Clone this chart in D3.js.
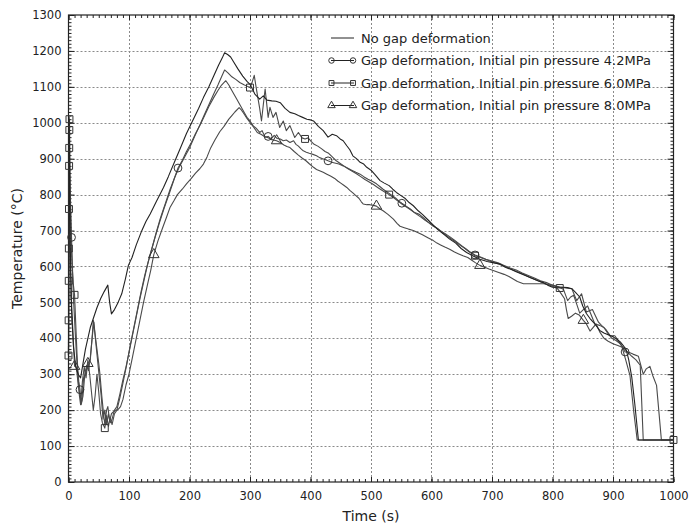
<!DOCTYPE html>
<html>
<head>
<meta charset="utf-8">
<script src="https://cdn.jsdelivr.net/npm/d3@7"></script>
<style>
  body { margin: 0; background: #fff; }
  svg text { font-family: "DejaVu Sans", sans-serif; fill: #222; }
</style>
</head>
<body>
<div id="chart"></div>
<script>
// Series: [time (s), temperature (°C)]
const noGap = [[0,350],[0.5,700],[1,1015],[1.5,950],[2,820],[3,650],[5,480],[8,380],[12,320],[16,300],[20,290],[24,330],[28,370],[32,400],[36,430],[41,455],[47,485],[53,510],[59,530],[65,548],[68,500],[71,468],[76,480],[82,500],[88,524],[94,565],[99,603],[105,625],[112,660],[120,695],[128,725],[135,746],[145,780],[157,820],[165,850],[175,890],[185,930],[195,970],[205,1005],[215,1040],[223,1070],[232,1100],[240,1130],[248,1160],[254,1180],[258,1195],[263,1190],[268,1183],[272,1172],[280,1150],[288,1130],[295,1115],[300,1107],[308,1080],[316,1066],[322,1075],[328,1063],[336,1061],[343,1060],[350,1056],[358,1040],[366,1029],[374,1025],[380,1020],[387,1015],[394,1010],[400,1008],[405,1005],[413,990],[421,978],[429,960],[436,968],[443,964],[449,955],[454,950],[460,936],[465,925],[470,908],[476,900],[482,890],[488,885],[493,876],[500,868],[507,855],[515,839],[522,832],[530,825],[536,815],[542,806],[549,798],[556,790],[563,778],[570,769],[578,755],[585,745],[594,730],[603,715],[611,702],[620,690],[630,676],[640,665],[649,650],[658,639],[668,630],[680,620],[692,614],[703,610],[713,607],[722,598],[731,592],[740,585],[750,578],[759,572],[768,566],[776,560],[785,555],[792,548],[800,542],[809,542],[818,542],[825,541],[832,538],[838,528],[845,515],[850,490],[856,469],[862,455],[870,440],[878,422],[885,415],[892,410],[900,404],[906,398],[912,390],[917,380],[922,367],[926,340],[931,292],[936,218],[942,117],[1000,117]];

const gap42 = [[0,352],[0.5,600],[1,880],[2,850],[3,800],[5,681],[8,520],[11,420],[14,330],[17,280],[19,257],[21,215],[24,240],[27,300],[30,325],[33,310],[36,345],[39,400],[42,445],[45,390],[48,340],[51,290],[54,240],[57,175],[60,200],[63,160],[66,190],[69,165],[72,175],[76,200],[80,210],[85,245],[90,285],[95,320],[100,360],[106,410],[112,460],[118,510],[124,555],[130,600],[136,640],[142,675],[150,720],[158,762],[166,800],[174,840],[181,874],[188,895],[195,920],[203,945],[210,970],[218,995],[225,1020],[232,1045],[240,1070],[247,1090],[253,1105],[260,1117],[265,1105],[270,1090],[278,1066],[284,1048],[290,1030],[295,1015],[300,1005],[305,992],[310,985],[316,973],[320,978],[325,960],[330,962],[335,955],[340,965],[345,956],[350,955],[355,950],[360,952],[366,945],[372,950],[376,940],[380,935],[384,928],[388,922],[393,918],[398,915],[404,912],[410,908],[415,903],[420,900],[425,897],[429,894],[435,890],[440,888],[447,885],[454,880],[461,874],[468,868],[475,862],[482,857],[488,850],[495,843],[502,837],[509,830],[515,822],[520,815],[526,808],[531,802],[536,796],[541,790],[546,782],[551,776],[558,768],[565,760],[572,750],[580,745],[587,735],[595,722],[603,712],[610,706],[618,694],[625,686],[632,677],[640,668],[648,658],[656,650],[664,640],[672,632],[680,627],[690,620],[700,615],[710,610],[720,603],[730,596],[740,590],[750,582],[760,575],[770,568],[780,560],[790,555],[800,548],[812,543],[822,540],[832,538],[840,505],[848,524],[856,473],[866,480],[876,445],[881,436],[888,425],[895,408],[903,407],[910,390],[917,371],[920,362],[925,362],[933,356],[942,350],[950,300],[955,315],[961,322],[966,295],[972,269],[980,117],[1000,117]];

const gap60 = [[0,352],[0.2,450],[0.4,560],[0.6,650],[0.8,760],[1,880],[1.2,930],[1.4,980],[1.6,1010],[2,950],[2.5,880],[3,780],[4,690],[6,600],[8,550],[10,521],[12,440],[14,360],[16,290],[18,240],[20,215],[23,280],[26,320],[29,290],[32,340],[35,300],[38,250],[41,200],[44,240],[47,300],[50,250],[53,190],[56,165],[60,150],[63,185],[66,155],[69,180],[72,160],[76,190],[80,200],[85,235],[90,275],[96,325],[102,380],[108,430],[114,480],[120,530],[126,575],[132,615],[138,650],[145,695],[152,735],[160,775],[168,815],[176,850],[184,880],[192,905],[200,930],[208,960],[216,990],[224,1020],[232,1050],[240,1080],[247,1105],[253,1128],[258,1147],[264,1138],[270,1128],[277,1120],[283,1112],[290,1106],[295,1102],[300,1098],[304,1115],[307,1132],[310,1100],[313,1070],[316,1040],[319,1005],[322,1050],[325,1094],[330,1015],[333,1043],[338,1015],[343,1029],[349,987],[355,1005],[360,978],[366,992],[374,959],[380,973],[386,958],[391,955],[396,958],[401,948],[406,940],[412,935],[418,928],[424,920],[430,915],[436,905],[442,895],[448,888],[455,880],[462,872],[469,865],[476,858],[483,850],[490,842],[497,835],[504,828],[511,820],[518,812],[524,806],[530,800],[537,792],[544,783],[551,774],[558,766],[566,757],[574,747],[582,738],[590,728],[598,720],[606,710],[614,700],[622,692],[630,683],[638,673],[646,663],[654,652],[662,641],[672,630],[682,624],[692,618],[702,612],[712,606],[722,600],[732,592],[742,585],[752,578],[762,570],[772,563],[782,556],[792,550],[800,545],[806,540],[812,540],[818,537],[825,505],[830,515],[835,520],[840,495],[845,470],[851,480],[858,490],[864,465],[870,440],[878,436],[885,430],[891,415],[898,400],[905,394],[912,385],[918,372],[925,360],[931,350],[938,340],[945,325],[950,117],[1000,117]];

const gap80 = [[0,352],[0.5,620],[1,850],[1.5,760],[2,680],[3,600],[5,500],[7,430],[10,322],[13,320],[16,270],[19,240],[22,225],[25,290],[28,300],[32,330],[36,340],[39,400],[41,450],[44,410],[47,370],[50,330],[52,300],[55,240],[58,190],[60,160],[63,200],[65,210],[68,170],[71,190],[74,195],[78,200],[82,202],[86,210],[90,230],[95,270],[100,300],[106,350],[112,400],[118,450],[124,500],[130,545],[136,590],[141,633],[148,672],[155,705],[162,737],[168,765],[174,782],[180,800],[188,815],[195,830],[203,845],[210,860],[217,872],[223,885],[229,905],[235,930],[242,952],[250,975],[257,990],[265,1010],[270,1020],[275,1030],[282,1042],[286,1035],[290,1025],[295,1012],[300,1001],[306,988],[312,973],[318,968],[324,962],[330,958],[336,953],[344,950],[350,945],[356,938],[361,934],[366,931],[373,920],[380,910],[386,902],[392,895],[398,886],[405,876],[410,870],[416,866],[421,862],[427,857],[433,852],[440,845],[445,838],[450,832],[455,826],[460,820],[465,812],[470,805],[475,797],[480,790],[484,780],[487,774],[493,772],[498,772],[504,770],[509,768],[515,760],[520,755],[528,745],[537,732],[543,720],[548,712],[555,708],[562,704],[570,700],[578,694],[585,688],[594,680],[603,672],[609,665],[615,660],[622,654],[630,648],[638,640],[645,635],[652,630],[660,625],[666,618],[673,610],[680,603],[688,598],[695,593],[702,589],[710,584],[720,578],[728,572],[735,565],[742,558],[752,552],[770,552],[785,552],[792,550],[800,548],[805,545],[812,530],[820,510],[823,480],[826,455],[832,462],[838,470],[844,465],[851,450],[856,440],[862,420],[867,430],[872,440],[878,418],[885,400],[892,392],[900,385],[908,380],[915,375],[921,340],[928,297],[934,200],[940,117],[1000,117]];

// Times at which a marker is drawn on each series
const circleMarks = [5, 19, 181, 330, 429, 551, 672, 920];
const squareMarks = [0, 0.2, 0.4, 0.6, 0.8, 1, 1.2, 1.4, 1.6, 10, 60, 300, 391, 530, 672, 812, 1000];
const triangleMarks = [10, 32, 141, 344, 509, 680, 851];

const legendLabels = [
    "No gap deformation",
    "Gap deformation, Initial pin pressure 4.2MPa",
    "Gap deformation, Initial pin pressure 6.0MPa",
    "Gap deformation, Initial pin pressure 8.0MPa"
];

const xTicks = d3.range(0, 1001, 100);
const yTicks = d3.range(0, 1301, 100);

const W = 698, H = 527;
const margin = { top: 15, right: 24.5, bottom: 45, left: 68.5 };

const svg = d3.select("#chart").append("svg")
    .attr("width", W)
    .attr("height", H);

const x = d3.scaleLinear().domain([0, 1000]).range([margin.left, W - margin.right]);
const y = d3.scaleLinear().domain([0, 1300]).range([H - margin.bottom, margin.top]);

// Grid (dotted)
const grid = svg.append("g").attr("stroke", "#8a8a8a").attr("stroke-dasharray", "2,2").attr("stroke-width", 1);
xTicks.filter(d => d > 0 && d < 1000).forEach(d => {
    grid.append("line").attr("x1", Math.round(x(d)) + 0.5).attr("x2", Math.round(x(d)) + 0.5)
        .attr("y1", y(1300)).attr("y2", y(0));
});
yTicks.filter(d => d > 0 && d < 1300).forEach(d => {
    grid.append("line").attr("y1", Math.round(y(d)) + 0.5).attr("y2", Math.round(y(d)) + 0.5)
        .attr("x1", x(0)).attr("x2", x(1000));
});

// Axes: major and minor ticks pointing inward on all four sides
const minorX = d3.range(0, 1001, 10);
const minorY = d3.range(0, 1301, 10);

function styleAxis(g) {
    g.select(".domain").remove();
    g.selectAll("line").attr("stroke", "#222");
    g.selectAll("text").style("font-size", "11.5px").attr("fill", "#222");
}

svg.append("g").attr("transform", `translate(0,${y(0)})`)
    .call(d3.axisBottom(x).tickValues(minorX).tickSize(-3).tickFormat(""))
    .call(styleAxis);
svg.append("g").attr("transform", `translate(0,${y(0)})`)
    .call(d3.axisBottom(x).tickValues(xTicks).tickSize(-5).tickPadding(10).tickFormat(d3.format("d")))
    .call(styleAxis);
svg.append("g").attr("transform", `translate(0,${y(1300)})`)
    .call(d3.axisTop(x).tickValues(minorX).tickSize(-3).tickFormat(""))
    .call(styleAxis);
svg.append("g").attr("transform", `translate(0,${y(1300)})`)
    .call(d3.axisTop(x).tickValues(xTicks).tickSize(-5).tickFormat(""))
    .call(styleAxis);

svg.append("g").attr("transform", `translate(${x(0)},0)`)
    .call(d3.axisLeft(y).tickValues(minorY).tickSize(-3).tickFormat(""))
    .call(styleAxis);
svg.append("g").attr("transform", `translate(${x(0)},0)`)
    .call(d3.axisLeft(y).tickValues(yTicks).tickSize(-6).tickPadding(7).tickFormat(d3.format("d")))
    .call(styleAxis);
svg.append("g").attr("transform", `translate(${x(1000)},0)`)
    .call(d3.axisRight(y).tickValues(minorY).tickSize(-3).tickFormat(""))
    .call(styleAxis);
svg.append("g").attr("transform", `translate(${x(1000)},0)`)
    .call(d3.axisRight(y).tickValues(yTicks).tickSize(-6).tickFormat(""))
    .call(styleAxis);

// Frame
svg.append("rect")
    .attr("x", x(0)).attr("y", y(1300))
    .attr("width", x(1000) - x(0)).attr("height", y(0) - y(1300))
    .attr("fill", "none").attr("stroke", "#222").attr("stroke-width", 1.2);

// Lines
const line = d3.line().x(d => x(d[0])).y(d => y(d[1]));
const series = [
    { data: gap80, marks: triangleMarks, shape: "triangle", color: "#4a4a4a" },
    { data: gap60, marks: squareMarks, shape: "square", color: "#4a4a4a" },
    { data: gap42, marks: circleMarks, shape: "circle", color: "#4a4a4a" },
    { data: noGap, marks: [], shape: null, color: "#222" }
];

const plot = svg.append("g");
series.forEach(s => {
    plot.append("path")
        .datum(s.data)
        .attr("d", line)
        .attr("fill", "none")
        .attr("stroke", s.color)
        .attr("stroke-width", 1.1)
        .attr("stroke-linejoin", "round");
});

function drawMarker(g, shape, cx, cy, size) {
    const type = { circle: d3.symbolCircle, square: d3.symbolSquare, triangle: d3.symbolTriangle }[shape];
    g.append("path")
        .attr("d", d3.symbol().type(type).size(size)())
        .attr("transform", `translate(${cx},${cy})`)
        .attr("fill", "none")
        .attr("stroke", "#333")
        .attr("stroke-width", 1);
}

series.filter(s => s.shape).forEach(s => {
    s.marks.forEach(t => {
        const p = s.data.find(d => d[0] === t);
        if (p) drawMarker(plot, s.shape, x(p[0]), y(p[1]), 48);
    });
});

// Legend
const legend = svg.append("g").attr("transform", "translate(328,38)");
const legendShapes = [null, "circle", "square", "triangle"];
legendLabels.forEach((label, i) => {
    const row = legend.append("g").attr("transform", `translate(0,${i * 22.5})`);
    row.append("line").attr("x1", 3).attr("x2", 26).attr("y1", 0).attr("y2", 0)
        .attr("stroke", "#222").attr("stroke-width", 1);
    if (legendShapes[i]) {
        drawMarker(row, legendShapes[i], 3.5, 0, 24);
        drawMarker(row, legendShapes[i], 25, 0, 24);
    }
    row.append("text")
        .attr("x", 33).attr("y", 4.5)
        .style("font-size", "13px")
        .text(label);
});

// Axis titles
svg.append("text")
    .attr("text-anchor", "middle")
    .attr("x", (x(0) + x(1000)) / 2)
    .attr("y", 521)
    .style("font-size", "14px")
    .text("Time (s)");

svg.append("text")
    .attr("text-anchor", "middle")
    .attr("transform", `translate(22,${(y(0) + y(1300)) / 2}) rotate(-90)`)
    .style("font-size", "14px")
    .text("Temperature (°C)");
</script>
</body>
</html>
